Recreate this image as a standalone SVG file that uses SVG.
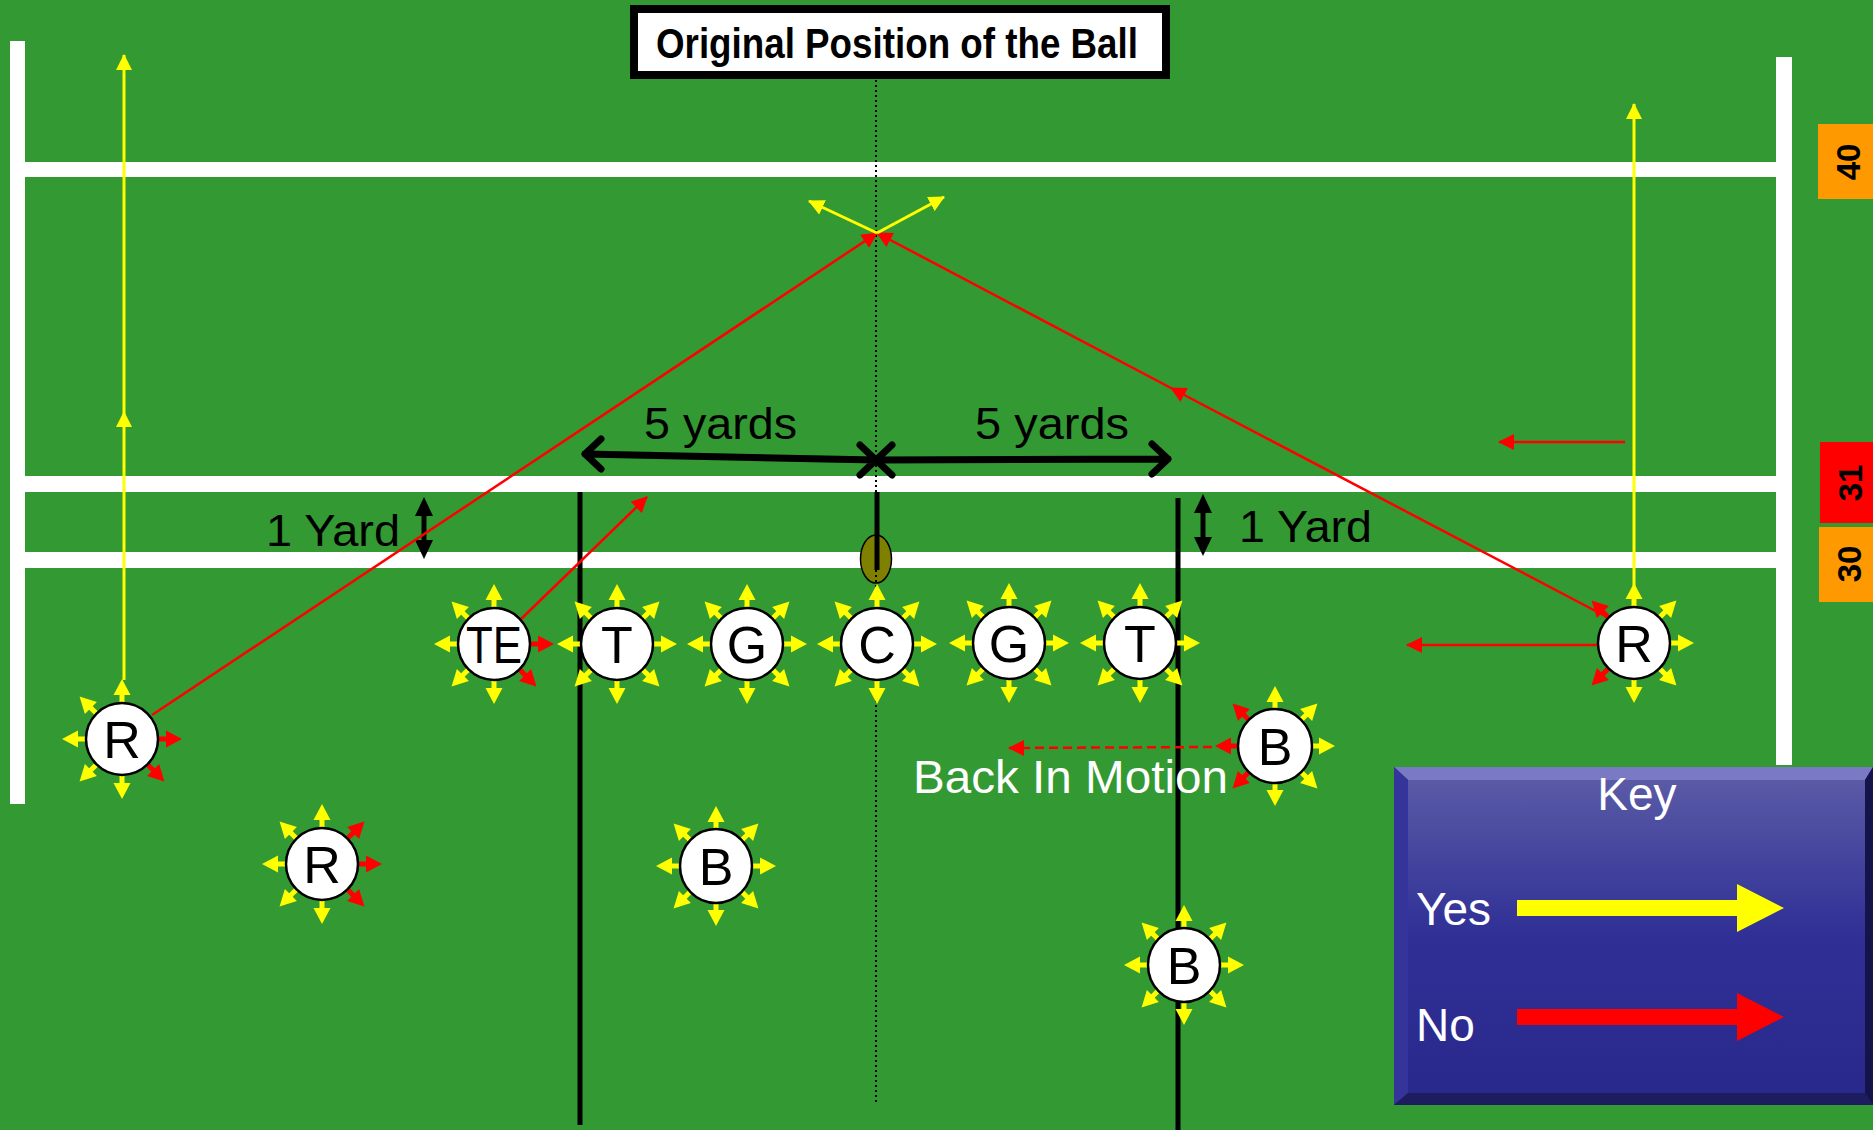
<svg xmlns="http://www.w3.org/2000/svg" width="1873" height="1130" viewBox="0 0 1873 1130">
<style>
.fl{fill:#fff}
.pc{fill:#fff;stroke:#000;stroke-width:2.5}
.pl{font-family:"Liberation Sans",Arial,sans-serif;font-size:52px;fill:#000;text-anchor:middle}
.t{font-family:"Liberation Sans",Arial,sans-serif;fill:#000}
.w{fill:#fff}
.yd{font-family:"Liberation Sans",Arial,sans-serif;font-weight:bold;font-size:33px;fill:#000;text-anchor:middle}
.rl{stroke:#f00;stroke-width:2.5;fill:none}
.yl{stroke:#ff0;stroke-width:3;fill:none}
.bl{stroke:#000;stroke-width:5;fill:none}
</style>
<defs>
<g id="ay" fill="#ff0"><rect x="35" y="-2.5" width="10" height="5"/><polygon points="44,-8.5 60,0 44,8.5"/></g>
<g id="ar" fill="#f00"><rect x="35" y="-2.5" width="10" height="5"/><polygon points="44,-8.5 60,0 44,8.5"/></g>
<marker id="mr" markerUnits="userSpaceOnUse" markerWidth="16" markerHeight="16" viewBox="0 0 16 16" refX="15" refY="8" orient="auto"><path d="M0,0 L16,8 L0,16 z" fill="#f00"/></marker>
<marker id="my" markerUnits="userSpaceOnUse" markerWidth="16" markerHeight="16" viewBox="0 0 16 16" refX="15" refY="8" orient="auto"><path d="M0,0 L16,8 L0,16 z" fill="#ff0"/></marker>
<linearGradient id="kg" x1="0" y1="0" x2="0" y2="1">
<stop offset="0" stop-color="#5a5aa6"/><stop offset="0.5" stop-color="#2f2f96"/><stop offset="1" stop-color="#29298c"/>
</linearGradient>
</defs>

<rect width="1873" height="1130" fill="#339933"/>

<g id="field">
<rect class="fl" x="10" y="41" width="15" height="763"/>
<rect class="fl" x="1776" y="57" width="16" height="708"/>
<rect class="fl" x="25" y="162" width="1751" height="15"/>
<rect class="fl" x="25" y="476" width="1751" height="16"/>
<rect class="fl" x="25" y="552" width="1751" height="16"/>
<line class="bl" x1="580" y1="492" x2="580" y2="1125"/>
<line class="bl" x1="1178" y1="498" x2="1178" y2="1130"/>
<ellipse cx="876" cy="559" rx="15.5" ry="24" fill="#808000" stroke="#000" stroke-width="1.5"/>
<line class="bl" x1="877" y1="492" x2="877" y2="570"/>
<line x1="876" y1="80" x2="876" y2="1105" stroke="#000" stroke-width="2" stroke-dasharray="2,3"/>
</g>

<g id="yard-markers">
<rect x="1818" y="124" width="55" height="75" fill="#ff9900"/>
<text class="yd" transform="translate(1860 162) rotate(-90)">40</text>
<rect x="1820" y="442" width="53" height="81" fill="#ff0000"/>
<text class="yd" transform="translate(1862 483) rotate(-90)">31</text>
<rect x="1819" y="527" width="54" height="75" fill="#ff9900"/>
<text class="yd" transform="translate(1861 564) rotate(-90)">30</text>
</g>

<g id="title">
<rect x="634" y="9" width="532" height="66" fill="#fff" stroke="#000" stroke-width="8"/>
<text class="t" x="656" y="58" font-size="42" font-weight="bold" textLength="482" lengthAdjust="spacingAndGlyphs">Original Position of the Ball</text>
</g>

<g id="measures">
<path d="M585,454 L876,460 M601,439 L585,454 L601,469 M860,445 L876,460 L860,475" stroke="#000" stroke-width="7" fill="none" stroke-linejoin="round" stroke-linecap="round"/>
<path d="M876,460 L1168,459 M892,445 L876,460 L892,475 M1152,444 L1168,459 L1152,474" stroke="#000" stroke-width="7" fill="none" stroke-linejoin="round" stroke-linecap="round"/>
<text class="t" x="644" y="439" font-size="45" textLength="153" lengthAdjust="spacingAndGlyphs">5 yards</text>
<text class="t" x="975" y="439" font-size="45" textLength="154" lengthAdjust="spacingAndGlyphs">5 yards</text>
<line x1="424" y1="512" x2="424" y2="544" stroke="#000" stroke-width="5"/>
<polygon points="424,497 415,516 433,516" fill="#000"/>
<polygon points="424,559 415,540 433,540" fill="#000"/>
<text class="t" x="266" y="546" font-size="45" textLength="134" lengthAdjust="spacingAndGlyphs">1 Yard</text>
<line x1="1203" y1="509" x2="1203" y2="541" stroke="#000" stroke-width="5"/>
<polygon points="1203,494 1194,513 1212,513" fill="#000"/>
<polygon points="1203,556 1194,537 1212,537" fill="#000"/>
<text class="t" x="1239" y="542" font-size="45" textLength="133" lengthAdjust="spacingAndGlyphs">1 Yard</text>
</g>

<g id="connectors">
<polyline class="yl" points="124,680 124,412 124,55" marker-mid="url(#my)" marker-end="url(#my)"/>
<line class="yl" x1="1634" y1="586" x2="1634" y2="104" marker-end="url(#my)"/>
<line class="rl" x1="152" y1="715" x2="877" y2="233" marker-end="url(#mr)"/>
<polyline class="rl" points="1607,617 1171,388 877,233" marker-mid="url(#mr)" marker-end="url(#mr)"/>
<line class="yl" x1="877" y1="233" x2="809" y2="201" marker-end="url(#my)"/>
<line class="yl" x1="877" y1="233" x2="944" y2="197" marker-end="url(#my)"/>
<line class="rl" x1="520" y1="620" x2="647" y2="497" marker-end="url(#mr)"/>
<line class="rl" x1="1598" y1="645" x2="1407" y2="645" stroke-width="3" marker-end="url(#mr)"/>
<line class="rl" x1="1625" y1="442" x2="1499" y2="442" marker-end="url(#mr)"/>
<line class="rl" x1="1212" y1="747" x2="1009" y2="748" stroke-dasharray="9,5" marker-end="url(#mr)"/>
</g>

<g id="R1">
<use href="#ar" transform="translate(122 739) rotate(0)"/>
<use href="#ar" transform="translate(122 739) rotate(45)"/>
<use href="#ay" transform="translate(122 739) rotate(90)"/>
<use href="#ay" transform="translate(122 739) rotate(135)"/>
<use href="#ay" transform="translate(122 739) rotate(180)"/>
<use href="#ay" transform="translate(122 739) rotate(225)"/>
<use href="#ay" transform="translate(122 739) rotate(270)"/>
<circle class="pc" cx="122" cy="739" r="36"/>
<text class="pl" x="122" y="758">R</text>
</g>

<g id="R2">
<use href="#ar" transform="translate(322 864) rotate(0)"/>
<use href="#ar" transform="translate(322 864) rotate(45)"/>
<use href="#ay" transform="translate(322 864) rotate(90)"/>
<use href="#ay" transform="translate(322 864) rotate(135)"/>
<use href="#ay" transform="translate(322 864) rotate(180)"/>
<use href="#ay" transform="translate(322 864) rotate(225)"/>
<use href="#ay" transform="translate(322 864) rotate(270)"/>
<use href="#ar" transform="translate(322 864) rotate(315)"/>
<circle class="pc" cx="322" cy="864" r="36"/>
<text class="pl" x="322" y="883">R</text>
</g>

<g id="TE">
<use href="#ar" transform="translate(494 644) rotate(0)"/>
<use href="#ar" transform="translate(494 644) rotate(45)"/>
<use href="#ay" transform="translate(494 644) rotate(90)"/>
<use href="#ay" transform="translate(494 644) rotate(135)"/>
<use href="#ay" transform="translate(494 644) rotate(180)"/>
<use href="#ay" transform="translate(494 644) rotate(225)"/>
<use href="#ay" transform="translate(494 644) rotate(270)"/>
<circle class="pc" cx="494" cy="644" r="36"/>
<text class="pl" x="494" y="663" textLength="56" lengthAdjust="spacingAndGlyphs">TE</text>
</g>

<g id="T1">
<use href="#ay" transform="translate(617 644) rotate(0)"/>
<use href="#ay" transform="translate(617 644) rotate(45)"/>
<use href="#ay" transform="translate(617 644) rotate(90)"/>
<use href="#ay" transform="translate(617 644) rotate(135)"/>
<use href="#ay" transform="translate(617 644) rotate(180)"/>
<use href="#ay" transform="translate(617 644) rotate(225)"/>
<use href="#ay" transform="translate(617 644) rotate(270)"/>
<use href="#ay" transform="translate(617 644) rotate(315)"/>
<circle class="pc" cx="617" cy="644" r="36"/>
<text class="pl" x="617" y="663">T</text>
</g>

<g id="G1">
<use href="#ay" transform="translate(747 644) rotate(0)"/>
<use href="#ay" transform="translate(747 644) rotate(45)"/>
<use href="#ay" transform="translate(747 644) rotate(90)"/>
<use href="#ay" transform="translate(747 644) rotate(135)"/>
<use href="#ay" transform="translate(747 644) rotate(180)"/>
<use href="#ay" transform="translate(747 644) rotate(225)"/>
<use href="#ay" transform="translate(747 644) rotate(270)"/>
<use href="#ay" transform="translate(747 644) rotate(315)"/>
<circle class="pc" cx="747" cy="644" r="36"/>
<text class="pl" x="747" y="663">G</text>
</g>

<g id="C">
<use href="#ay" transform="translate(877 644) rotate(0)"/>
<use href="#ay" transform="translate(877 644) rotate(45)"/>
<use href="#ay" transform="translate(877 644) rotate(90)"/>
<use href="#ay" transform="translate(877 644) rotate(135)"/>
<use href="#ay" transform="translate(877 644) rotate(180)"/>
<use href="#ay" transform="translate(877 644) rotate(225)"/>
<use href="#ay" transform="translate(877 644) rotate(270)"/>
<use href="#ay" transform="translate(877 644) rotate(315)"/>
<circle class="pc" cx="877" cy="644" r="36"/>
<text class="pl" x="877" y="663">C</text>
</g>

<g id="G2">
<use href="#ay" transform="translate(1009 643) rotate(0)"/>
<use href="#ay" transform="translate(1009 643) rotate(45)"/>
<use href="#ay" transform="translate(1009 643) rotate(90)"/>
<use href="#ay" transform="translate(1009 643) rotate(135)"/>
<use href="#ay" transform="translate(1009 643) rotate(180)"/>
<use href="#ay" transform="translate(1009 643) rotate(225)"/>
<use href="#ay" transform="translate(1009 643) rotate(270)"/>
<use href="#ay" transform="translate(1009 643) rotate(315)"/>
<circle class="pc" cx="1009" cy="643" r="36"/>
<text class="pl" x="1009" y="662">G</text>
</g>

<g id="T2">
<use href="#ay" transform="translate(1140 643) rotate(0)"/>
<use href="#ay" transform="translate(1140 643) rotate(45)"/>
<use href="#ay" transform="translate(1140 643) rotate(90)"/>
<use href="#ay" transform="translate(1140 643) rotate(135)"/>
<use href="#ay" transform="translate(1140 643) rotate(180)"/>
<use href="#ay" transform="translate(1140 643) rotate(225)"/>
<use href="#ay" transform="translate(1140 643) rotate(270)"/>
<use href="#ay" transform="translate(1140 643) rotate(315)"/>
<circle class="pc" cx="1140" cy="643" r="36"/>
<text class="pl" x="1140" y="662">T</text>
</g>

<g id="R3">
<use href="#ay" transform="translate(1634 643) rotate(0)"/>
<use href="#ay" transform="translate(1634 643) rotate(45)"/>
<use href="#ay" transform="translate(1634 643) rotate(90)"/>
<use href="#ar" transform="translate(1634 643) rotate(135)"/>
<use href="#ar" transform="translate(1634 643) rotate(225)"/>
<use href="#ay" transform="translate(1634 643) rotate(270)"/>
<use href="#ay" transform="translate(1634 643) rotate(315)"/>
<circle class="pc" cx="1634" cy="643" r="36"/>
<text class="pl" x="1634" y="662">R</text>
</g>

<g id="B1">
<use href="#ay" transform="translate(1275 746) rotate(0)"/>
<use href="#ay" transform="translate(1275 746) rotate(45)"/>
<use href="#ay" transform="translate(1275 746) rotate(90)"/>
<use href="#ar" transform="translate(1275 746) rotate(135)"/>
<use href="#ar" transform="translate(1275 746) rotate(180)"/>
<use href="#ar" transform="translate(1275 746) rotate(225)"/>
<use href="#ay" transform="translate(1275 746) rotate(270)"/>
<use href="#ay" transform="translate(1275 746) rotate(315)"/>
<circle class="pc" cx="1275" cy="746" r="37"/>
<text class="pl" x="1275" y="765">B</text>
</g>

<g id="B2">
<use href="#ay" transform="translate(716 866) rotate(0)"/>
<use href="#ay" transform="translate(716 866) rotate(45)"/>
<use href="#ay" transform="translate(716 866) rotate(90)"/>
<use href="#ay" transform="translate(716 866) rotate(135)"/>
<use href="#ay" transform="translate(716 866) rotate(180)"/>
<use href="#ay" transform="translate(716 866) rotate(225)"/>
<use href="#ay" transform="translate(716 866) rotate(270)"/>
<use href="#ay" transform="translate(716 866) rotate(315)"/>
<ellipse class="pc" cx="716" cy="866" rx="36" ry="37"/>
<text class="pl" x="716" y="885">B</text>
</g>

<g id="B3">
<use href="#ay" transform="translate(1184 965) rotate(0)"/>
<use href="#ay" transform="translate(1184 965) rotate(45)"/>
<use href="#ay" transform="translate(1184 965) rotate(90)"/>
<use href="#ay" transform="translate(1184 965) rotate(135)"/>
<use href="#ay" transform="translate(1184 965) rotate(180)"/>
<use href="#ay" transform="translate(1184 965) rotate(225)"/>
<use href="#ay" transform="translate(1184 965) rotate(270)"/>
<use href="#ay" transform="translate(1184 965) rotate(315)"/>
<ellipse class="pc" cx="1184" cy="965" rx="36" ry="37"/>
<text class="pl" x="1184" y="984">B</text>
</g>

<text class="t w" x="913" y="793" font-size="46" textLength="315" lengthAdjust="spacingAndGlyphs">Back In Motion</text>

<g id="key">
<rect x="1394" y="767" width="479" height="338" fill="#2a2a80"/>
<polygon points="1394,767 1873,767 1865,780 1408,780" fill="#7a7ac4"/>
<polygon points="1394,767 1408,780 1408,1093 1394,1105" fill="#34349a"/>
<polygon points="1394,1105 1408,1093 1865,1093 1873,1105" fill="#1c1c5e"/>
<polygon points="1873,767 1873,1105 1865,1093 1865,780" fill="#14144a"/>
<rect x="1408" y="780" width="457" height="313" fill="url(#kg)"/>
<text class="t w" x="1637" y="810" font-size="46" text-anchor="middle">Key</text>
<text class="t w" x="1416" y="925" font-size="46">Yes</text>
<text class="t w" x="1416" y="1041" font-size="46">No</text>
<polygon points="1517,900 1737,900 1737,884 1784,908 1737,932 1737,916 1517,916" fill="#ff0"/>
<polygon points="1517,1009 1737,1009 1737,993 1784,1017 1737,1041 1737,1025 1517,1025" fill="#f00"/>
</g>
</svg>
